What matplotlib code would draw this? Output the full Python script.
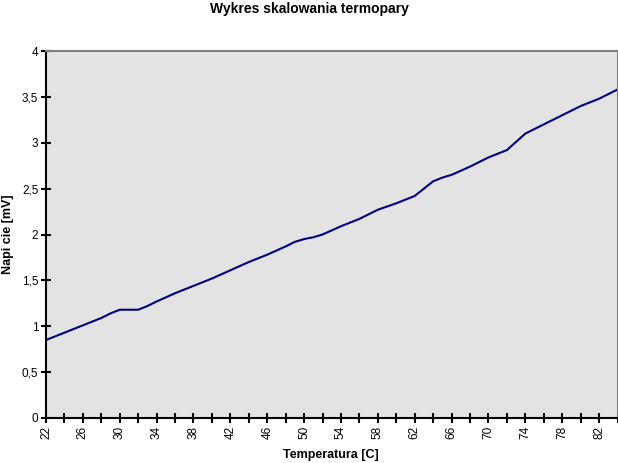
import matplotlib
matplotlib.use("Agg")
import matplotlib.pyplot as plt
from matplotlib.ticker import FuncFormatter, MultipleLocator

plt.rcParams['font.family'] = ['Liberation Sans', 'DejaVu Sans']

# dane
temperatura = [22, 24, 26, 28, 29, 30, 32, 33, 34, 36, 38, 40, 42, 44, 46, 48,
               49, 50, 51, 52, 54, 56, 58, 60, 62, 63, 64, 65, 66, 68, 70, 71,
               72, 73, 74, 75, 76, 78, 80, 82, 84]
napiecie = [0.85, 0.93, 1.01, 1.09, 1.14, 1.18, 1.18, 1.22, 1.27, 1.36, 1.44,
            1.52, 1.61, 1.70, 1.78, 1.87, 1.92, 1.95, 1.97, 2.00, 2.09, 2.17,
            2.27, 2.34, 2.42, 2.50, 2.58, 2.62, 2.65, 2.74, 2.84, 2.88, 2.92,
            3.01, 3.10, 3.15, 3.20, 3.30, 3.40, 3.48, 3.58]

fig = plt.figure(figsize=(6.18, 4.63), dpi=100)
ax = fig.add_axes([46 / 618, 1 - 418 / 463, 1 - 46 / 618 - 0.5 / 618, (418 - 51) / 463])
ax.set_facecolor('#e3e3e3')

ax.plot(temperatura, napiecie, color='#000080', lw=1.5)

ax.set_xlim(22, 84)
ax.set_ylim(0, 4)

# osie
for s in ['left', 'bottom']:
    ax.spines[s].set_color('black')
    ax.spines[s].set_linewidth(1.5)
for s in ['top', 'right']:
    ax.spines[s].set_color('#808080')
    ax.spines[s].set_linewidth(1.5)

ax.xaxis.set_major_locator(MultipleLocator(2))
ax.yaxis.set_major_locator(MultipleLocator(0.5))
ax.xaxis.set_major_formatter(FuncFormatter(lambda v, p: '%d' % v if (round(v) - 22) % 4 == 0 else ''))
ax.yaxis.set_major_formatter(FuncFormatter(lambda v, p: ('%g' % v).replace('.', ',')))
ax.tick_params(axis='both', direction='inout', length=7, width=1.5, labelsize=8.5, color='black')
ax.tick_params(axis='x', labelrotation=90, pad=2)
ax.tick_params(axis='y', pad=2)

fig.text(0.5, 1 - 9 / 463, 'Wykres skalowania termopary', fontsize=10, fontweight='bold',
         ha='center', va='center')
fig.text(331 / 618, 1 - 455 / 463, 'Temperatura [C]', fontsize=9, fontweight='bold',
         ha='center', va='center')
ax.set_ylabel('Napi cie [mV]', fontsize=9, fontweight='bold', labelpad=6)

fig.savefig('out.png', dpi=100)
